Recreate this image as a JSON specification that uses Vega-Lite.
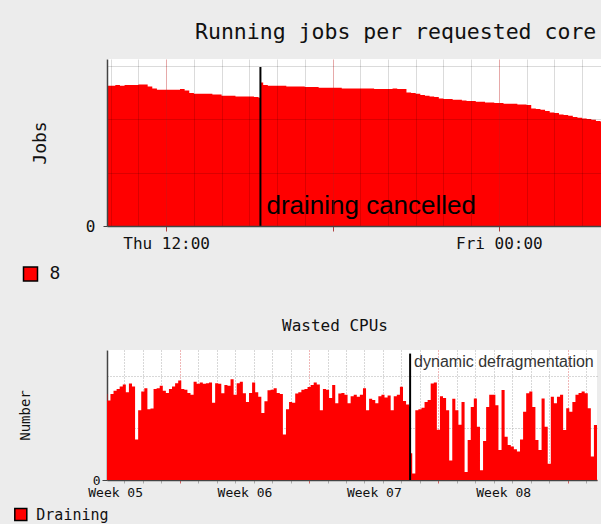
{
  "$schema": "https://vega.github.io/schema/vega-lite/v6.json",
  "background": "#ececec",
  "padding": {"left": 13, "top": 21, "right": 0, "bottom": 0},
  "config": {
    "view": {"stroke": null, "fill": "white"},
    "font": "DejaVu Sans Mono",
    "axis": {"labelFont": "DejaVu Sans Mono", "titleFont": "DejaVu Sans Mono", "titleFontWeight": "normal", "labelColor": "#111", "titleColor": "#111"}
  },
  "spacing": 34,
  "resolve": {"scale": {"color": "independent"}, "legend": {"color": "independent"}},
  "vconcat": [
    {
      "width": 494,
      "height": 167,
      "title": {"text": "Running jobs per requested core", "anchor": "start", "frame": "group", "dx": 88, "fontSize": 21.5, "font": "DejaVu Sans Mono", "fontWeight": "normal", "color": "#111", "offset": 16},
      "layer": [
        {
          "data": {"values": [
            {"t": "2014-02-13T09:52", "v": 210}, {"t": "2014-02-13T10:00", "v": 210}, {"t": "2014-02-13T10:10", "v": 211}, {"t": "2014-02-13T10:20", "v": 210},
            {"t": "2014-02-13T10:30", "v": 211}, {"t": "2014-02-13T10:40", "v": 211}, {"t": "2014-02-13T10:50", "v": 211}, {"t": "2014-02-13T11:00", "v": 212},
            {"t": "2014-02-13T11:10", "v": 212}, {"t": "2014-02-13T11:20", "v": 209}, {"t": "2014-02-13T11:30", "v": 206}, {"t": "2014-02-13T11:40", "v": 204},
            {"t": "2014-02-13T11:50", "v": 204}, {"t": "2014-02-13T12:00", "v": 204}, {"t": "2014-02-13T12:10", "v": 204}, {"t": "2014-02-13T12:20", "v": 204},
            {"t": "2014-02-13T12:30", "v": 205}, {"t": "2014-02-13T12:40", "v": 203}, {"t": "2014-02-13T12:50", "v": 199}, {"t": "2014-02-13T13:00", "v": 198},
            {"t": "2014-02-13T13:10", "v": 198}, {"t": "2014-02-13T13:20", "v": 198}, {"t": "2014-02-13T13:30", "v": 198}, {"t": "2014-02-13T13:40", "v": 197},
            {"t": "2014-02-13T13:50", "v": 197}, {"t": "2014-02-13T14:00", "v": 195}, {"t": "2014-02-13T14:10", "v": 195}, {"t": "2014-02-13T14:20", "v": 195},
            {"t": "2014-02-13T14:30", "v": 194}, {"t": "2014-02-13T14:40", "v": 194}, {"t": "2014-02-13T14:50", "v": 194}, {"t": "2014-02-13T15:00", "v": 194},
            {"t": "2014-02-13T15:10", "v": 193}, {"t": "2014-02-13T15:20", "v": 192}, {"t": "2014-02-13T15:24", "v": 215}, {"t": "2014-02-13T15:30", "v": 211},
            {"t": "2014-02-13T15:40", "v": 210}, {"t": "2014-02-13T15:50", "v": 210}, {"t": "2014-02-13T16:00", "v": 210}, {"t": "2014-02-13T16:10", "v": 210},
            {"t": "2014-02-13T16:20", "v": 209}, {"t": "2014-02-13T16:30", "v": 209}, {"t": "2014-02-13T16:40", "v": 209}, {"t": "2014-02-13T16:50", "v": 209},
            {"t": "2014-02-13T17:00", "v": 208}, {"t": "2014-02-13T17:10", "v": 208}, {"t": "2014-02-13T17:20", "v": 208}, {"t": "2014-02-13T17:30", "v": 207},
            {"t": "2014-02-13T17:40", "v": 207}, {"t": "2014-02-13T17:50", "v": 207}, {"t": "2014-02-13T18:00", "v": 207}, {"t": "2014-02-13T18:10", "v": 207},
            {"t": "2014-02-13T18:20", "v": 206}, {"t": "2014-02-13T18:30", "v": 206}, {"t": "2014-02-13T18:40", "v": 206}, {"t": "2014-02-13T18:50", "v": 206},
            {"t": "2014-02-13T19:00", "v": 206}, {"t": "2014-02-13T19:10", "v": 206}, {"t": "2014-02-13T19:20", "v": 206}, {"t": "2014-02-13T19:30", "v": 205},
            {"t": "2014-02-13T19:40", "v": 205}, {"t": "2014-02-13T19:50", "v": 205}, {"t": "2014-02-13T20:00", "v": 205}, {"t": "2014-02-13T20:10", "v": 206},
            {"t": "2014-02-13T20:20", "v": 205}, {"t": "2014-02-13T20:30", "v": 205}, {"t": "2014-02-13T20:40", "v": 200}, {"t": "2014-02-13T20:50", "v": 199},
            {"t": "2014-02-13T21:00", "v": 198}, {"t": "2014-02-13T21:10", "v": 196}, {"t": "2014-02-13T21:20", "v": 195}, {"t": "2014-02-13T21:30", "v": 194},
            {"t": "2014-02-13T21:40", "v": 193}, {"t": "2014-02-13T21:50", "v": 191}, {"t": "2014-02-13T22:00", "v": 190}, {"t": "2014-02-13T22:10", "v": 190},
            {"t": "2014-02-13T22:20", "v": 189}, {"t": "2014-02-13T22:30", "v": 189}, {"t": "2014-02-13T22:40", "v": 188}, {"t": "2014-02-13T22:50", "v": 187},
            {"t": "2014-02-13T23:00", "v": 187}, {"t": "2014-02-13T23:10", "v": 186}, {"t": "2014-02-13T23:20", "v": 186}, {"t": "2014-02-13T23:30", "v": 185},
            {"t": "2014-02-13T23:40", "v": 185}, {"t": "2014-02-13T23:50", "v": 184}, {"t": "2014-02-14T00:00", "v": 184}, {"t": "2014-02-14T00:10", "v": 183},
            {"t": "2014-02-14T00:20", "v": 183}, {"t": "2014-02-14T00:30", "v": 183}, {"t": "2014-02-14T00:40", "v": 182}, {"t": "2014-02-14T00:50", "v": 182},
            {"t": "2014-02-14T01:00", "v": 181}, {"t": "2014-02-14T01:10", "v": 176}, {"t": "2014-02-14T01:20", "v": 175}, {"t": "2014-02-14T01:30", "v": 174},
            {"t": "2014-02-14T01:40", "v": 172}, {"t": "2014-02-14T01:50", "v": 170}, {"t": "2014-02-14T02:00", "v": 169}, {"t": "2014-02-14T02:10", "v": 167},
            {"t": "2014-02-14T02:20", "v": 166}, {"t": "2014-02-14T02:30", "v": 165}, {"t": "2014-02-14T02:40", "v": 163}, {"t": "2014-02-14T02:50", "v": 162},
            {"t": "2014-02-14T03:00", "v": 161}, {"t": "2014-02-14T03:10", "v": 160}, {"t": "2014-02-14T03:20", "v": 159}, {"t": "2014-02-14T03:30", "v": 157},
            {"t": "2014-02-14T03:40", "v": 156}, {"t": "2014-02-14T03:50", "v": 155}
          ]},
          "mark": {"type": "area", "interpolate": "step-after", "clip": true},
          "encoding": {
            "x": {"field": "t", "type": "temporal",
              "scale": {"domain": [{"year": 2014, "month": 2, "date": 13, "hours": 9, "minutes": 52}, {"year": 2014, "month": 2, "date": 14, "hours": 3, "minutes": 41}]},
              "axis": {
                "title": null, "zindex": 1,
                "tickCount": {"interval": "hours", "step": 1},
                "labelExpr": "hours(datum.value) % 12 == 0 ? timeFormat(datum.value, '%a %H:%M') : ''",
                "labelFontSize": 16, "labelPadding": 4, "labelOverlap": false, "labelFlush": false,
                "domainColor": "#444", "domainWidth": 1.5,
                "tickColor": {"condition": {"test": "hours(datum.value) % 6 == 0", "value": "#b04040"}, "value": "rgba(0,0,0,0)"},
                "tickSize": 5,
                "grid": true,
                "gridColor": {"condition": {"test": "hours(datum.value) % 6 == 0", "value": "rgba(190,30,30,0.38)"}, "value": "rgba(0,0,0,0.14)"}
              }},
            "y": {"field": "v", "type": "quantitative",
              "scale": {"domain": [0, 250], "nice": false},
              "axis": {
                "title": "Jobs", "titleFontSize": 18, "titlePadding": 36, "zindex": 1,
                "values": [0, 20, 40, 60, 80, 100, 120, 140, 160, 180, 200, 220, 240, 250],
                "labelExpr": "datum.value % 100 == 0 ? format(datum.value, 'd') : ''",
                "labelFontSize": {"condition": {"test": "datum.value % 100 == 0", "value": 16}, "value": 1},
                "labelPadding": 8, "labelOverlap": false, "labelFlush": false,
                "domainColor": "#444", "domainWidth": 1.5,
                "tickColor": {"condition": {"test": "datum.value % 100 == 0", "value": "#444"}, "value": "rgba(0,0,0,0)"},
                "tickSize": 4,
                "grid": true,
                "gridColor": {"condition": {"test": "datum.value % 100 == 0", "value": "rgba(190,30,30,0.38)"}, "value": "rgba(0,0,0,0.14)"}
              }},
            "color": {"datum": "8", "type": "nominal", "scale": {"range": ["#ff0000"]},
              "legend": {"orient": "none", "legendX": -85.5, "legendY": 206, "title": null,
                "symbolType": "square", "symbolSize": 196, "symbolStrokeColor": "#000", "symbolStrokeWidth": 1.5,
                "labelFont": "DejaVu Sans Mono", "labelFontSize": 18, "labelOffset": 10, "labelColor": "#111"}}
          }
        },
        {
          "data": {"values": [{"t": "2014-02-13T15:24", "base": 0, "top": 238}]},
          "mark": {"type": "rule", "color": "#000", "strokeWidth": 2},
          "encoding": {"x": {"field": "t", "type": "temporal"}, "y": {"field": "base", "type": "quantitative"}, "y2": {"field": "top"}}
        },
        {
          "data": {"values": [{"t": "2014-02-13T15:24", "at": 18, "note": "draining cancelled"}]},
          "mark": {"type": "text", "align": "left", "baseline": "alphabetic", "dx": 6, "font": "Liberation Sans", "fontSize": 26, "color": "#000"},
          "encoding": {"x": {"field": "t", "type": "temporal"}, "y": {"field": "at", "type": "quantitative"}, "text": {"field": "note", "type": "nominal"}}
        }
      ]
    },
    {
      "width": 490,
      "height": 130,
      "title": {"text": "Wasted CPUs", "anchor": "start", "frame": "group", "dx": 175, "fontSize": 16, "font": "DejaVu Sans Mono", "fontWeight": "normal", "color": "#111", "offset": 16},
      "layer": [
        {
          "data": {"values": [
            {"t": "2014-01-28T14:00", "v": 248}, {"t": "2014-01-28T18:00", "v": 240}, {"t": "2014-01-28T22:00", "v": 300},
            {"t": "2014-01-29T02:00", "v": 265}, {"t": "2014-01-29T06:00", "v": 158}, {"t": "2014-01-29T10:00", "v": 168}, {"t": "2014-01-29T14:00", "v": 215}, {"t": "2014-01-29T18:00", "v": 190}, {"t": "2014-01-29T22:00", "v": 265},
            {"t": "2014-01-30T02:00", "v": 245}, {"t": "2014-01-30T06:00", "v": 265}, {"t": "2014-01-30T10:00", "v": 275}, {"t": "2014-01-30T14:00", "v": 280}, {"t": "2014-01-30T18:00", "v": 288}, {"t": "2014-01-30T22:00", "v": 294},
            {"t": "2014-01-31T02:00", "v": 270}, {"t": "2014-01-31T06:00", "v": 297}, {"t": "2014-01-31T10:00", "v": 288}, {"t": "2014-01-31T14:00", "v": 125}, {"t": "2014-01-31T18:00", "v": 215}, {"t": "2014-01-31T22:00", "v": 272},
            {"t": "2014-02-01T02:00", "v": 282}, {"t": "2014-02-01T06:00", "v": 218}, {"t": "2014-02-01T10:00", "v": 220}, {"t": "2014-02-01T14:00", "v": 280}, {"t": "2014-02-01T18:00", "v": 282}, {"t": "2014-02-01T22:00", "v": 290},
            {"t": "2014-02-02T02:00", "v": 275}, {"t": "2014-02-02T06:00", "v": 268}, {"t": "2014-02-02T10:00", "v": 280}, {"t": "2014-02-02T14:00", "v": 288}, {"t": "2014-02-02T18:00", "v": 298}, {"t": "2014-02-02T22:00", "v": 306},
            {"t": "2014-02-03T02:00", "v": 280}, {"t": "2014-02-03T06:00", "v": 278}, {"t": "2014-02-03T10:00", "v": 268}, {"t": "2014-02-03T14:00", "v": 262}, {"t": "2014-02-03T18:00", "v": 302}, {"t": "2014-02-03T22:00", "v": 296},
            {"t": "2014-02-04T02:00", "v": 300}, {"t": "2014-02-04T06:00", "v": 296}, {"t": "2014-02-04T10:00", "v": 298}, {"t": "2014-02-04T14:00", "v": 300}, {"t": "2014-02-04T18:00", "v": 238}, {"t": "2014-02-04T22:00", "v": 298},
            {"t": "2014-02-05T02:00", "v": 296}, {"t": "2014-02-05T06:00", "v": 267}, {"t": "2014-02-05T10:00", "v": 292}, {"t": "2014-02-05T14:00", "v": 290}, {"t": "2014-02-05T18:00", "v": 310}, {"t": "2014-02-05T22:00", "v": 262},
            {"t": "2014-02-06T02:00", "v": 298}, {"t": "2014-02-06T06:00", "v": 302}, {"t": "2014-02-06T10:00", "v": 267}, {"t": "2014-02-06T14:00", "v": 240}, {"t": "2014-02-06T18:00", "v": 268}, {"t": "2014-02-06T22:00", "v": 300},
            {"t": "2014-02-07T02:00", "v": 270}, {"t": "2014-02-07T06:00", "v": 256}, {"t": "2014-02-07T10:00", "v": 206}, {"t": "2014-02-07T14:00", "v": 242}, {"t": "2014-02-07T18:00", "v": 276}, {"t": "2014-02-07T22:00", "v": 278},
            {"t": "2014-02-08T02:00", "v": 282}, {"t": "2014-02-08T06:00", "v": 268}, {"t": "2014-02-08T10:00", "v": 265}, {"t": "2014-02-08T14:00", "v": 140}, {"t": "2014-02-08T18:00", "v": 218}, {"t": "2014-02-08T22:00", "v": 240},
            {"t": "2014-02-09T02:00", "v": 238}, {"t": "2014-02-09T06:00", "v": 266}, {"t": "2014-02-09T10:00", "v": 270}, {"t": "2014-02-09T14:00", "v": 278}, {"t": "2014-02-09T18:00", "v": 280}, {"t": "2014-02-09T22:00", "v": 286},
            {"t": "2014-02-10T02:00", "v": 292}, {"t": "2014-02-10T06:00", "v": 300}, {"t": "2014-02-10T10:00", "v": 294}, {"t": "2014-02-10T14:00", "v": 215}, {"t": "2014-02-10T18:00", "v": 280}, {"t": "2014-02-10T22:00", "v": 278},
            {"t": "2014-02-11T02:00", "v": 252}, {"t": "2014-02-11T06:00", "v": 292}, {"t": "2014-02-11T10:00", "v": 236}, {"t": "2014-02-11T14:00", "v": 266}, {"t": "2014-02-11T18:00", "v": 268}, {"t": "2014-02-11T22:00", "v": 262},
            {"t": "2014-02-12T02:00", "v": 236}, {"t": "2014-02-12T06:00", "v": 258}, {"t": "2014-02-12T10:00", "v": 262}, {"t": "2014-02-12T14:00", "v": 256}, {"t": "2014-02-12T18:00", "v": 262}, {"t": "2014-02-12T22:00", "v": 282},
            {"t": "2014-02-13T02:00", "v": 215}, {"t": "2014-02-13T06:00", "v": 250}, {"t": "2014-02-13T10:00", "v": 246}, {"t": "2014-02-13T14:00", "v": 236}, {"t": "2014-02-13T18:00", "v": 258}, {"t": "2014-02-13T22:00", "v": 262},
            {"t": "2014-02-14T02:00", "v": 254}, {"t": "2014-02-14T06:00", "v": 260}, {"t": "2014-02-14T10:00", "v": 215}, {"t": "2014-02-14T14:00", "v": 258}, {"t": "2014-02-14T18:00", "v": 262}, {"t": "2014-02-14T22:00", "v": 287},
            {"t": "2014-02-15T02:00", "v": 243}, {"t": "2014-02-15T06:00", "v": 232}, {"t": "2014-02-15T10:00", "v": 226}, {"t": "2014-02-15T11:20", "v": 82}, {"t": "2014-02-15T14:00", "v": 20}, {"t": "2014-02-15T18:00", "v": 215}, {"t": "2014-02-15T22:00", "v": 218},
            {"t": "2014-02-16T02:00", "v": 222}, {"t": "2014-02-16T06:00", "v": 240}, {"t": "2014-02-16T10:00", "v": 246}, {"t": "2014-02-16T14:00", "v": 297}, {"t": "2014-02-16T18:00", "v": 300}, {"t": "2014-02-16T22:00", "v": 155},
            {"t": "2014-02-17T02:00", "v": 258}, {"t": "2014-02-17T06:00", "v": 252}, {"t": "2014-02-17T10:00", "v": 215}, {"t": "2014-02-17T14:00", "v": 60}, {"t": "2014-02-17T18:00", "v": 250}, {"t": "2014-02-17T22:00", "v": 215},
            {"t": "2014-02-18T02:00", "v": 170}, {"t": "2014-02-18T06:00", "v": 240}, {"t": "2014-02-18T10:00", "v": 25}, {"t": "2014-02-18T14:00", "v": 123}, {"t": "2014-02-18T18:00", "v": 225}, {"t": "2014-02-18T22:00", "v": 251},
            {"t": "2014-02-19T02:00", "v": 164}, {"t": "2014-02-19T06:00", "v": 30}, {"t": "2014-02-19T10:00", "v": 120}, {"t": "2014-02-19T14:00", "v": 225}, {"t": "2014-02-19T18:00", "v": 262}, {"t": "2014-02-19T22:00", "v": 262},
            {"t": "2014-02-20T02:00", "v": 230}, {"t": "2014-02-20T06:00", "v": 92}, {"t": "2014-02-20T10:00", "v": 277}, {"t": "2014-02-20T14:00", "v": 133}, {"t": "2014-02-20T18:00", "v": 108}, {"t": "2014-02-20T22:00", "v": 103},
            {"t": "2014-02-21T02:00", "v": 95}, {"t": "2014-02-21T06:00", "v": 88}, {"t": "2014-02-21T10:00", "v": 125}, {"t": "2014-02-21T14:00", "v": 210}, {"t": "2014-02-21T18:00", "v": 267}, {"t": "2014-02-21T22:00", "v": 272},
            {"t": "2014-02-22T02:00", "v": 225}, {"t": "2014-02-22T06:00", "v": 123}, {"t": "2014-02-22T10:00", "v": 92}, {"t": "2014-02-22T14:00", "v": 251}, {"t": "2014-02-22T18:00", "v": 164}, {"t": "2014-02-22T22:00", "v": 50},
            {"t": "2014-02-23T02:00", "v": 256}, {"t": "2014-02-23T06:00", "v": 236}, {"t": "2014-02-23T10:00", "v": 256}, {"t": "2014-02-23T14:00", "v": 262}, {"t": "2014-02-23T18:00", "v": 154}, {"t": "2014-02-23T22:00", "v": 221},
            {"t": "2014-02-24T02:00", "v": 210}, {"t": "2014-02-24T06:00", "v": 240}, {"t": "2014-02-24T10:00", "v": 262}, {"t": "2014-02-24T14:00", "v": 268}, {"t": "2014-02-24T18:00", "v": 272}, {"t": "2014-02-24T22:00", "v": 267},
            {"t": "2014-02-25T02:00", "v": 221}, {"t": "2014-02-25T06:00", "v": 72}, {"t": "2014-02-25T10:00", "v": 169}, {"t": "2014-02-25T14:00", "v": 169}
          ]},
          "mark": {"type": "area", "interpolate": "step-after", "clip": true},
          "encoding": {
            "x": {"field": "t", "type": "temporal",
              "scale": {"domain": [{"year": 2014, "month": 1, "date": 30, "hours": 1, "minutes": 32}, {"year": 2014, "month": 2, "date": 25, "hours": 14}]},
              "axis": {
                "title": null,
                "tickCount": {"interval": "day", "step": 1},
                "labelExpr": "day(datum.value) == 1 ? timeFormat(datum.value - 302400000, 'Week %V') : ''",
                "labelOffset": -64.6,
                "labelFontSize": 13, "labelPadding": 3, "labelOverlap": false, "labelFlush": false,
                "domainColor": "#444", "domainWidth": 1.5,
                "tickColor": {"condition": {"test": "day(datum.value) == 1", "value": "#d06060"}, "value": "#aaa"},
                "tickSize": 3,
                "grid": true, "gridDash": [1, 2],
                "gridColor": {"condition": {"test": "day(datum.value) == 1", "value": "#e07070"}, "value": "#b0b0b0"}
              }},
            "y": {"field": "v", "type": "quantitative",
              "scale": {"domain": [0, 400], "nice": false},
              "axis": {
                "title": "Number", "titleFontSize": 14, "titlePadding": 60,
                "values": [0, 20, 40, 60, 80, 100, 120, 140, 160, 180, 200, 220, 240, 260, 280, 300, 320, 340, 360, 380, 400],
                "labelExpr": "datum.value % 100 == 0 ? format(datum.value, 'd') : ''",
                "labelFontSize": {"condition": {"test": "datum.value % 100 == 0", "value": 13}, "value": 1},
                "labelPadding": 2, "labelOverlap": false, "labelFlush": false,
                "domainColor": "#444", "domainWidth": 1.5,
                "tickColor": {"condition": {"test": "datum.value % 100 == 0", "value": "#444"}, "value": "rgba(0,0,0,0)"},
                "tickSize": 5,
                "grid": true, "gridDash": [1, 2],
                "gridColor": {"condition": {"test": "datum.value % 100 == 0", "value": "#e07070"}, "value": "#b0b0b0"}
              }},
            "color": {"datum": "Draining", "type": "nominal", "scale": {"range": ["#ff0000"]},
              "legend": {"orient": "none", "legendX": -93.7, "legendY": 157, "title": null,
                "symbolType": "square", "symbolSize": 144, "symbolStrokeColor": "#000", "symbolStrokeWidth": 1.5,
                "labelFont": "DejaVu Sans Mono", "labelFontSize": 15, "labelOffset": 8, "labelColor": "#111"}}
          }
        },
        {
          "data": {"values": [{"t": "2014-02-15T11:15", "base": 0, "top": 389}]},
          "mark": {"type": "rule", "color": "#000", "strokeWidth": 2},
          "encoding": {"x": {"field": "t", "type": "temporal"}, "y": {"field": "base", "type": "quantitative"}, "y2": {"field": "top"}}
        },
        {
          "data": {"values": [{"t": "2014-02-15T11:15", "at": 349, "note": "dynamic defragmentation"}]},
          "mark": {"type": "text", "align": "left", "baseline": "alphabetic", "dx": 4, "font": "Liberation Sans", "fontSize": 16, "color": "#333"},
          "encoding": {"x": {"field": "t", "type": "temporal"}, "y": {"field": "at", "type": "quantitative"}, "text": {"field": "note", "type": "nominal"}}
        }
      ]
    }
  ]
}
